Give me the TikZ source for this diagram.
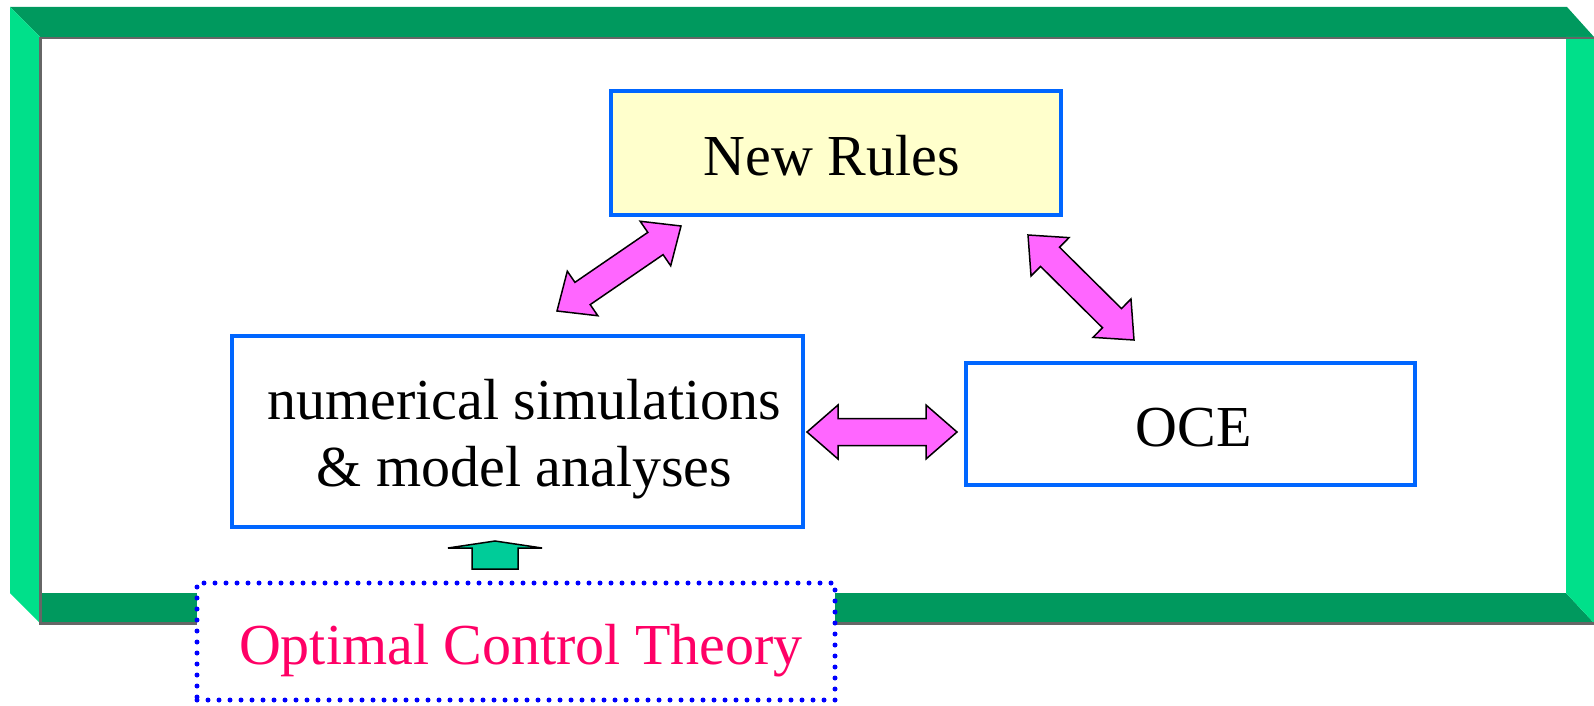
\documentclass[tikz,border=0pt]{standalone}
\usepackage{fontspec}
\setmainfont{Liberation Serif}
\usetikzlibrary{calc}

\definecolor{framedark}{RGB}{0,153,94}
\definecolor{framelight}{RGB}{0,224,138}
\definecolor{frameedge}{RGB}{102,102,102}
\definecolor{boxblue}{RGB}{0,102,255}
\definecolor{ruleyellow}{RGB}{255,255,204}
\definecolor{linkpink}{RGB}{255,102,255}
\definecolor{inputgreen}{RGB}{0,204,153}
\definecolor{theoryred}{RGB}{255,0,102}
\definecolor{dotblue}{RGB}{0,0,255}

% two-headed block arrow between two named points
\newcommand{\twoheadblock}[2]{%
  \draw[link] (#1)
    -- ($(#1)!31pt!(#2)!27pt!90:(#2)$)
    -- ($(#1)!31pt!(#2)!13.5pt!90:(#2)$)
    -- ($(#2)!31pt!(#1)!13.5pt!-90:(#1)$)
    -- ($(#2)!31pt!(#1)!27pt!-90:(#1)$)
    -- (#2)
    -- ($(#2)!31pt!(#1)!27pt!90:(#1)$)
    -- ($(#2)!31pt!(#1)!13.5pt!90:(#1)$)
    -- ($(#1)!31pt!(#2)!13.5pt!-90:(#2)$)
    -- ($(#1)!31pt!(#2)!27pt!-90:(#2)$)
    -- cycle;}

\begin{document}
\begin{tikzpicture}[x=1pt,y=-1pt,
  bigtext/.style={font=\fontsize{58pt}{67pt}\selectfont},
  box/.style={draw=boxblue,line width=4.5pt,inner sep=0pt,bigtext,
    text height=44pt,text depth=0pt},
  link/.style={fill=linkpink,draw=black,line width=1.5pt,line join=miter},
  feed/.style={fill=inputgreen,draw=black,line width=1.5pt,line join=miter},
  theory/.style={draw=dotblue,line width=5pt,dash pattern=on 0pt off 11pt,
    line cap=round,fill=white,inner sep=0pt,bigtext,text=theoryred,
    text height=46pt,text depth=0pt}]

\useasboundingbox (0,0) rectangle (1594,706);

% bevelled frame
\fill[framedark]  (10,7) -- (1567,7) -- (1594,37) -- (40,37) -- cycle;
\fill[framelight] (10,7) -- (40,37) -- (40,623) -- (10,593) -- cycle;
\fill[framedark]  (40,593) -- (1566,593) -- (1594,623) -- (40,623) -- cycle;
\fill[framelight] (1566,37) -- (1594,37) -- (1594,623) -- (1566,593) -- cycle;
\draw[frameedge,line width=2.5pt] (40,38) -- (1594,38);
\draw[frameedge,line width=2.5pt] (40.5,37) -- (40.5,623.5) -- (1594,623.5);

% boxes
\node[box,fill=ruleyellow,minimum width=450pt,minimum height=124pt]
  (rules) at (836,153) {New Rules\hspace*{8pt}};
\node[box,fill=white,minimum width=571pt,minimum height=191pt,align=center,
  text height=,text depth=]
  (sim) at (517.5,431.5)
  {\hspace*{14pt}\rule{0pt}{55pt}numerical simulations\\\hspace*{14pt}\& model analyses};
\node[box,fill=white,minimum width=449pt,minimum height=122pt]
  (oce) at (1190.5,424) {\hspace*{6pt}OCE};
\node[theory,minimum width=638pt,minimum height=117pt]
  (oct) at (516,641.5) {\hspace*{10pt}Optimal Control Theory};

% arrow end points
\coordinate (simtop)   at (557,311);
\coordinate (rulesl)   at (681,226);
\coordinate (rulesr)   at (1028,235);
\coordinate (ocetop)   at (1134,340);
\coordinate (simright) at (807,432);
\coordinate (oceleft)  at (957,432);
\coordinate (octtop)   at (495,569);
\coordinate (simbot)   at (495,541);

\twoheadblock{simtop}{rulesl}
\twoheadblock{rulesr}{ocetop}
\twoheadblock{simright}{oceleft}

% input arrow from the theory box
\draw[feed] ($(octtop)!23pt!90:(simbot)$)
  -- ($(octtop)!21pt!(simbot)!23pt!90:(simbot)$)
  -- ($(octtop)!21pt!(simbot)!47pt!90:(simbot)$)
  -- (simbot)
  -- ($(octtop)!21pt!(simbot)!47pt!-90:(simbot)$)
  -- ($(octtop)!21pt!(simbot)!23pt!-90:(simbot)$)
  -- ($(octtop)!23pt!-90:(simbot)$)
  -- cycle;
\end{tikzpicture}
\end{document}
